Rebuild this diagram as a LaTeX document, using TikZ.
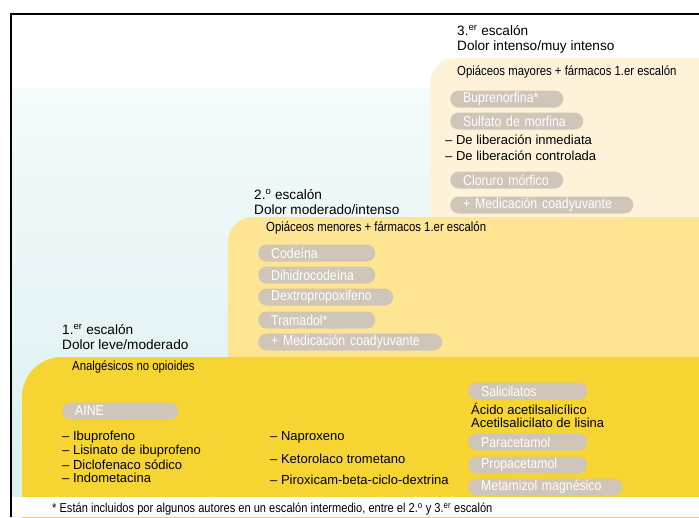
\documentclass[tikz,border=0pt]{standalone}
\usepackage{fontspec}
\setmainfont{Liberation Sans}
\newfontfamily\narrowf[FakeStretch=0.86]{Liberation Sans}
\definecolor{levthree}{HTML}{FEF3D9}
\definecolor{levtwo}{HTML}{FDE593}
\definecolor{levone}{HTML}{F6D532}
\definecolor{pillc}{HTML}{CFC5B9}
\definecolor{bluetop}{HTML}{F4FBFB}
\definecolor{bluebot}{HTML}{DCEFF1}
\tikzset{
  hdr/.style={anchor=west, inner sep=0, align=left, font=\fontsize{13.6}{15}\selectfont},
  lbl/.style={anchor=west, inner sep=0, font=\narrowf\fontsize{13.2}{14}\selectfont},
  item/.style={anchor=west, inner sep=0, font=\fontsize{13}{14}\selectfont},
  pill/.style={anchor=west, fill=pillc, text=white, rounded corners=8.5, minimum height=17,
    inner xsep=13, inner ysep=0, align=left, text width=#1, font=\narrowf\fontsize{14.3}{15}\selectfont},
  foot/.style={anchor=west, inner sep=0, font=\narrowf\fontsize{12.9}{14}\selectfont}
}
\begin{document}
\begin{tikzpicture}[x=1pt,y=-1pt]
\useasboundingbox (0,0) rectangle (699,517);
\clip (0,0) rectangle (699,517);
\fill[white] (0,0) rectangle (699,517);
\shade[top color=bluetop, bottom color=bluebot] (11,88) rectangle (699,497);
% level boxes
\fill[levthree, rounded corners=25] (430,58) rectangle (740,260);
\fill[levtwo, rounded corners=25] (228,217) rectangle (740,400);
\fill[levone, rounded corners=40] (22,357) rectangle (740,560);
\fill[white] (11,497) rectangle (699,517);
% frame
\draw[line width=2] (10.5,517) -- (10.5,14) -- (699,14);

% level 3
\node[hdr] (h3) at (457,39) {3.\textsuperscript{er} escalón\\Dolor intenso/muy intenso};
\node[lbl] (t3) at (457,72) {Opiáceos mayores + fármacos 1.er escalón};
\node[pill=87] (bup) at (450,99) {Buprenorfina*};
\node[pill=107] (sul) at (450,121) {Sulfato de morfina};
\node[item] (inm) at (445,140) {– De liberación inmediata};
\node[item] (con) at (445,156) {– De liberación controlada};
\node[pill=87] (clo) at (450,180) {Cloruro mórfico};
\node[pill=157] (med3) at (450,205) {+ Medicación coadyuvante};

% level 2
\node[hdr] (h2) at (254,202) {2.\textsuperscript{o} escalón\\Dolor moderado/intenso};
\node[lbl] (t2) at (266,228) {Opiáceos menores + fármacos 1.er escalón};
\node[pill=91] (cod) at (258,253) {Codeína};
\node[pill=91] (dih) at (258,275) {Dihidrocodeína};
\node[pill=109] (dex) at (258,297) {Dextropropoxifeno};
\node[pill=91] (tra) at (258,320) {Tramadol*};
\node[pill=158] (med2) at (258,342) {+ Medicación coadyuvante};

% level 1
\node[hdr] (h1) at (62,337) {1.\textsuperscript{er} escalón\\Dolor leve/moderado};
\node[lbl] (t1) at (72,367) {Analgésicos no opioides};
\node[pill=90] (aine) at (62,411) {AINE};
\node[item] (ibu) at (62,437) {– Ibuprofeno};
\node[item] (lis) at (62,451) {– Lisinato de ibuprofeno};
\node[item] (dic) at (62,465) {– Diclofenaco sódico};
\node[item] (ind) at (62,478) {– Indometacina};
\node[item] (nap) at (270,437) {– Naproxeno};
\node[item] (ket) at (270,459) {– Ketorolaco trometano};
\node[item] (pir) at (270,480) {– Piroxicam-beta-ciclo-dextrina};
\node[pill=93] (sal) at (468,391) {Salicilatos};
\node[item] (aci) at (471,409) {Ácido acetilsalicílico};
\node[item] (ace) at (471,423) {Acetilsalicilato de lisina};
\node[pill=93] (par) at (468,442) {Paracetamol};
\node[pill=93] (pro) at (468,465) {Propacetamol};
\node[pill=128] (met) at (468,487) {Metamizol magnésico};

% footnote
\node[foot] (fn) at (52,509) {* Están incluidos por algunos autores en un escalón intermedio, entre el 2.\textsuperscript{o} y 3.\textsuperscript{er} escalón};
\end{tikzpicture}
\end{document}
